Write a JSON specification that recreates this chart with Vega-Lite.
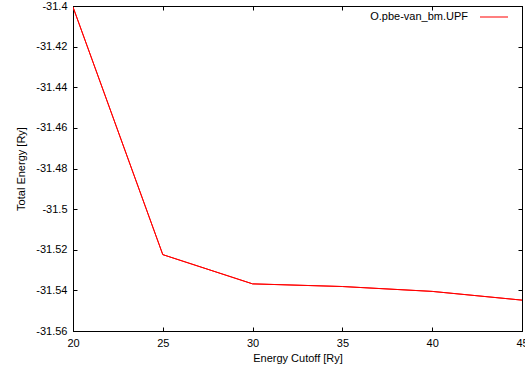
{
  "$schema": "https://vega.github.io/schema/vega-lite/v6.json",
  "width": 449,
  "height": 325,
  "autosize": {"type": "none"},
  "padding": {"left": 73, "top": 6, "right": 3, "bottom": 38},
  "config": {
    "font": "Liberation Sans",
    "view": {"stroke": "black", "strokeWidth": 1},
    "axis": {
      "grid": false,
      "domainColor": "black",
      "tickColor": "black",
      "tickSize": -4,
      "labelPadding": 10,
      "labelFontSize": 11,
      "labelColor": "black",
      "titleFontSize": 11,
      "titleFontWeight": "normal",
      "titleColor": "black",
      "labelFlush": false,
      "labelOverlap": false
    },
    "legend": {"padding": 0}
  },
  "data": {
    "values": [
      {"cutoff": 20, "energy": -31.4005, "series": "O.pbe-van_bm.UPF"},
      {"cutoff": 25, "energy": -31.5224, "series": "O.pbe-van_bm.UPF"},
      {"cutoff": 30, "energy": -31.5368, "series": "O.pbe-van_bm.UPF"},
      {"cutoff": 35, "energy": -31.5381, "series": "O.pbe-van_bm.UPF"},
      {"cutoff": 40, "energy": -31.5405, "series": "O.pbe-van_bm.UPF"},
      {"cutoff": 45, "energy": -31.5448, "series": "O.pbe-van_bm.UPF"}
    ]
  },
  "layer": [
    {
      "mark": {"type": "line", "strokeWidth": 1, "clip": true},
      "encoding": {
        "x": {
          "field": "cutoff", "type": "quantitative",
          "scale": {"domain": [20, 45], "nice": false, "zero": false},
          "axis": {"values": [20, 25, 30, 35, 40, 45], "title": "Energy Cutoff [Ry]", "titlePadding": 4}
        },
        "y": {
          "field": "energy", "type": "quantitative",
          "scale": {"domain": [-31.56, -31.4], "nice": false, "zero": false},
          "axis": {
            "values": [-31.56, -31.54, -31.52, -31.5, -31.48, -31.46, -31.44, -31.42, -31.4],
            "labelExpr": "replace(format(datum.value, '.2~f'), '\u2212', '-')",
            "title": "Total Energy [Ry]",
            "titlePadding": 9
          }
        },
        "stroke": {
          "field": "series", "type": "nominal",
          "scale": {"range": ["#ff0000"]},
          "legend": {
            "title": null,
            "orient": "none",
            "legendX": 407,
            "legendY": -3,
            "symbolType": "M-1,-0.036H1V0.036H-1Z",
            "symbolSize": 784,
            "symbolStrokeWidth": 0,
            "symbolFillColor": "#ff0000",
            "labelAlign": "right",
            "labelOffset": -40,
            "labelFontSize": 11,
            "labelColor": "black",
            "encode": {"symbols": {"update": {"fill": {"value": "#ff0000"}, "stroke": {"value": "#ff0000"}, "strokeWidth": {"value": 0}, "opacity": {"value": 1}}}}
          }
        }
      }
    },
    {
      "mark": {"type": "line", "strokeWidth": 1, "clip": true, "color": "#ff0000"},
      "encoding": {
        "x": {
          "field": "cutoff", "type": "quantitative",
          "scale": {"domain": [20, 45], "nice": false, "zero": false},
          "axis": {"orient": "top", "values": [20, 25, 30, 35, 40, 45], "labels": false, "title": null}
        },
        "y": {
          "field": "energy", "type": "quantitative",
          "scale": {"domain": [-31.56, -31.4], "nice": false, "zero": false},
          "axis": {
            "orient": "right",
            "values": [-31.56, -31.54, -31.52, -31.5, -31.48, -31.46, -31.44, -31.42, -31.4],
            "labels": false,
            "title": null
          }
        }
      }
    }
  ],
  "resolve": {"scale": {"x": "independent", "y": "independent"}}
}
